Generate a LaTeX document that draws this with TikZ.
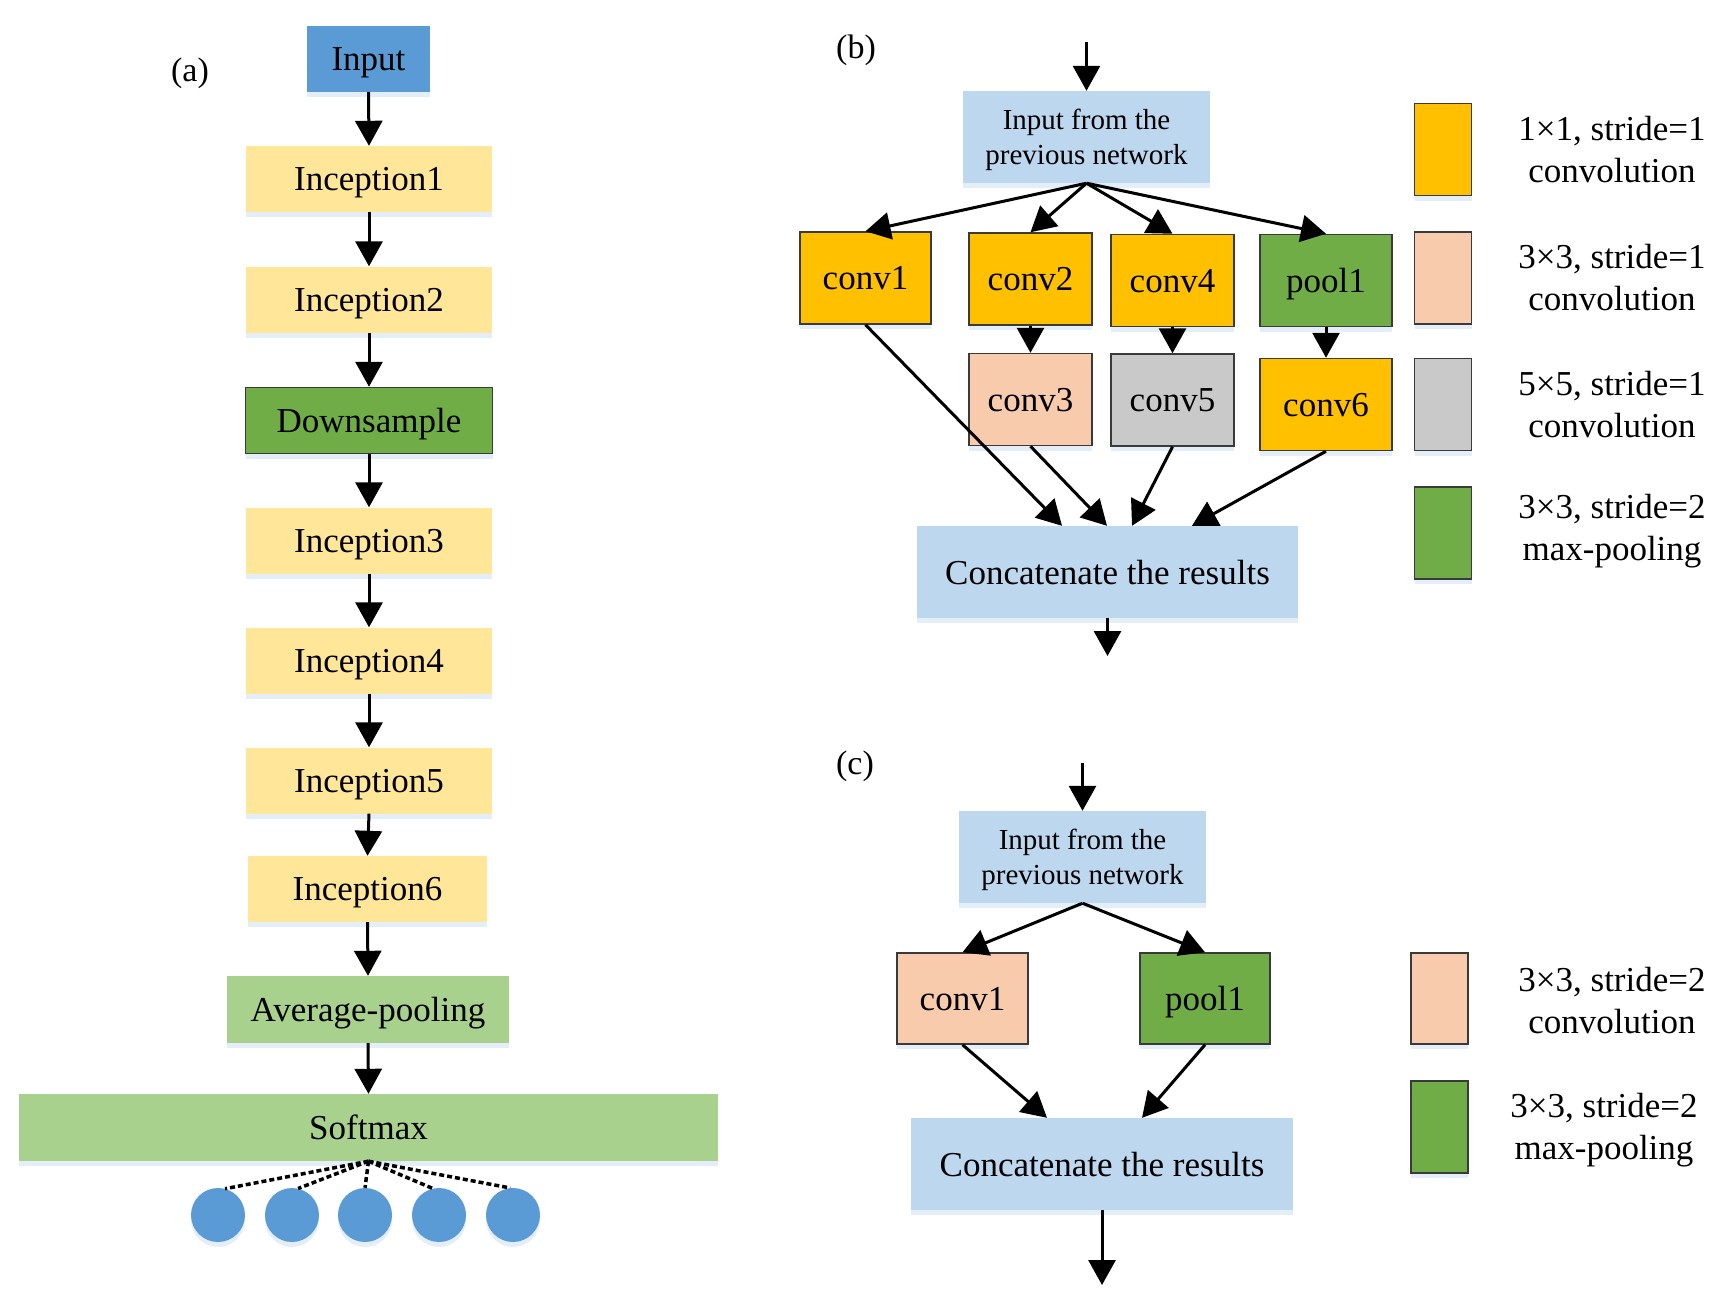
\documentclass[tikz,border=0pt]{standalone}
\usepackage{fontspec}
\setmainfont{Liberation Serif}
\usetikzlibrary{arrows.meta,shadows,calc}
\definecolor{inblue}{HTML}{5B9BD5}
\definecolor{incyel}{HTML}{FFE699}
\definecolor{dgreen}{HTML}{70AD47}
\definecolor{lgreen}{HTML}{A9D18E}
\definecolor{lblue}{HTML}{BDD7EE}
\definecolor{gold}{HTML}{FFC000}
\definecolor{peach}{HTML}{F8CBAD}
\definecolor{lgray}{HTML}{C9C9C9}
\definecolor{shadowc}{HTML}{E4EEF8}
\definecolor{edgec}{HTML}{3A3A3A}
\begin{document}
\begin{tikzpicture}[x=1pt,y=-1pt,
  box/.style={rectangle, inner sep=0pt, text depth=0pt, font=\fontsize{35}{40}\selectfont,
    drop shadow={shadow xshift=0pt,shadow yshift=-5pt,fill=shadowc,opacity=1}},
  smallbox/.style={box, font=\fontsize{29}{35}\selectfont, align=center},
  edged/.style={draw=edgec, line width=1.5pt},
  arr/.style={line width=3pt, -{Triangle[length=25pt,width=27pt]}},
  dots/.style={line width=3.5pt, dash pattern=on 5pt off 3pt},
  lbl/.style={inner sep=0pt, font=\fontsize{34}{40}\selectfont},
  ltext/.style={inner sep=0pt, align=center, font=\fontsize{35}{42}\selectfont},
  outc/.style={circle, fill=inblue, minimum size=54pt, inner sep=0pt,
    drop shadow={shadow xshift=0pt,shadow yshift=-5pt,fill=shadowc,opacity=1}}
]
\useasboundingbox (0,0) rectangle (1733,1302);

% ---------------- (a) ----------------
\node[lbl] (la) at (190,73) {(a)};
\node[box, fill=inblue, minimum width=123pt, minimum height=66pt] (ain) at (368.5,59) {Input};
\node[box, fill=incyel, minimum width=246pt, minimum height=66pt] (i1) at (369,179) {Inception1};
\node[box, fill=incyel, minimum width=246pt, minimum height=66pt] (i2) at (369,299.5) {Inception2};
\node[box, fill=dgreen, edged, minimum width=247pt, minimum height=66pt] (ds) at (369,420.5) {Downsample};
\node[box, fill=incyel, minimum width=246pt, minimum height=66pt] (i3) at (369,540.5) {Inception3};
\node[box, fill=incyel, minimum width=246pt, minimum height=66pt] (i4) at (369,660.5) {Inception4};
\node[box, fill=incyel, minimum width=246pt, minimum height=66pt] (i5) at (369,780.5) {Inception5};
\node[box, fill=incyel, minimum width=239pt, minimum height=66pt] (i6) at (367.5,889) {Inception6};
\node[box, fill=lgreen, minimum width=282pt, minimum height=67pt] (avg) at (368,1009.5) {Average-pooling};
\node[box, fill=lgreen, minimum width=699pt, minimum height=67pt] (sm) at (368.5,1127.5) {Softmax};

\draw[arr] (ain.south) -- (i1.north);
\draw[arr] (i1.south) -- (i2.north);
\draw[arr] (i2.south) -- (ds.north);
\draw[arr] (ds.south) -- (i3.north);
\draw[arr] (i3.south) -- (i4.north);
\draw[arr] (i4.south) -- (i5.north);
\draw[arr] (i5.south) -- (i6.north);
\draw[arr] (i6.south) -- (avg.north);
\draw[arr] (avg.south) -- (sm.north);

\node[outc] (o1) at (218,1215) {};
\node[outc] (o2) at (292,1215) {};
\node[outc] (o3) at (365,1215) {};
\node[outc] (o4) at (439,1215) {};
\node[outc] (o5) at (513,1215) {};
\draw[dots] (sm.south) -- (o1.75);
\draw[dots] (sm.south) -- (o2.77);
\draw[dots] (sm.south) -- (o3.90);
\draw[dots] (sm.south) -- (o4.103);
\draw[dots] (sm.south) -- (o5.96);

% ---------------- (b) ----------------
\node[lbl] (lb) at (856,50) {(b)};
\coordinate (btop) at (1086.5,42);
\node[smallbox, fill=lblue, minimum width=247pt, minimum height=92pt] (binp) at (1086.5,137) {Input from the\\previous network};
\node[box, fill=gold, edged, minimum width=131pt, minimum height=92pt] (bc1) at (865.5,278) {conv1};
\node[box, fill=gold, edged, minimum width=123pt, minimum height=92pt] (bc2) at (1030.5,279) {conv2};
\node[box, fill=gold, edged, minimum width=123pt, minimum height=92pt] (bc4) at (1172.5,280.5) {conv4};
\node[box, fill=dgreen, edged, minimum width=132pt, minimum height=92pt] (bp1) at (1326,280.5) {pool1};
\node[box, fill=peach, edged, minimum width=123pt, minimum height=92pt] (bc3) at (1030.5,399.5) {conv3};
\node[box, fill=lgray, edged, minimum width=123pt, minimum height=92pt] (bc5) at (1172.5,400) {conv5};
\node[box, fill=gold, edged, minimum width=132pt, minimum height=92pt] (bc6) at (1326,404.5) {conv6};
\node[box, fill=lblue, minimum width=381pt, minimum height=92pt] (bcat) at (1107.5,572) {Concatenate the results};
\coordinate (bbot) at (1107.5,656);

\draw[arr] (btop) -- (binp.north);
\draw[arr] (binp.south) -- (bc1.north);
\draw[arr] (binp.south) -- (bc2.north);
\draw[arr] (binp.south) -- (bc4.north);
\draw[arr] (binp.south) -- (bp1.north);
\draw[arr] (bc2.south) -- (bc3.north);
\draw[arr] (bc4.south) -- (bc5.north);
\draw[arr] (bp1.south) -- (bc6.north);
\draw[arr] (bc1.south) -- ([xshift=-45.5pt]bcat.north);
\draw[arr] (bc3.south) -- ([xshift=-0.5pt]bcat.north);
\draw[arr] (bc5.south) -- ([xshift=24.5pt]bcat.north);
\draw[arr] (bc6.south) -- ([xshift=84.5pt]bcat.north);
\draw[arr] (bcat.south) -- (bbot);

% legend (b)
\node[box, fill=gold, edged, minimum width=57pt, minimum height=92pt] (lg1) at (1443,149.5) {};
\node[box, fill=peach, edged, minimum width=57pt, minimum height=92pt] (lg2) at (1443,278) {};
\node[box, fill=lgray, edged, minimum width=57pt, minimum height=92pt] (lg3) at (1443,404.5) {};
\node[box, fill=dgreen, edged, minimum width=57pt, minimum height=92pt] (lg4) at (1443,533) {};
\node[ltext] (lt1) at (1612,150) {1×1, stride=1\\convolution};
\node[ltext] (lt2) at (1612,278) {3×3, stride=1\\convolution};
\node[ltext] (lt3) at (1612,405) {5×5, stride=1\\convolution};
\node[ltext] (lt4) at (1612,531) {3×3, stride=2\\max-pooling};

% ---------------- (c) ----------------
\node[lbl] (lc) at (855,766) {(c)};
\coordinate (ctop) at (1082.5,763);
\node[smallbox, fill=lblue, minimum width=247pt, minimum height=92pt] (cinp) at (1082.5,857) {Input from the\\previous network};
\node[box, fill=peach, edged, minimum width=131pt, minimum height=91pt] (cc1) at (962.5,998.5) {conv1};
\node[box, fill=dgreen, edged, minimum width=130pt, minimum height=91pt] (cp1) at (1205,998.5) {pool1};
\node[box, fill=lblue, minimum width=382pt, minimum height=92pt] (ccat) at (1102,1164) {Concatenate the results};
\coordinate (cbot) at (1102,1285);

\draw[arr] (ctop) -- (cinp.north);
\draw[arr] (cinp.south) -- (cc1.north);
\draw[arr] (cinp.south) -- (cp1.north);
\draw[arr] (cc1.south) -- ([xshift=-55pt]ccat.north);
\draw[arr] (cp1.south) -- ([xshift=40pt]ccat.north);
\draw[arr] (ccat.south) -- (cbot);

% legend (c)
\node[box, fill=peach, edged, minimum width=57pt, minimum height=91pt] (lc1) at (1439.5,998.5) {};
\node[box, fill=dgreen, edged, minimum width=57pt, minimum height=92pt] (lc2) at (1439.5,1127) {};
\node[ltext] (lct1) at (1612,1001) {3×3, stride=2\\convolution};
\node[ltext] (lct2) at (1604,1130) {3×3, stride=2\\max-pooling};
\end{tikzpicture}
\end{document}
